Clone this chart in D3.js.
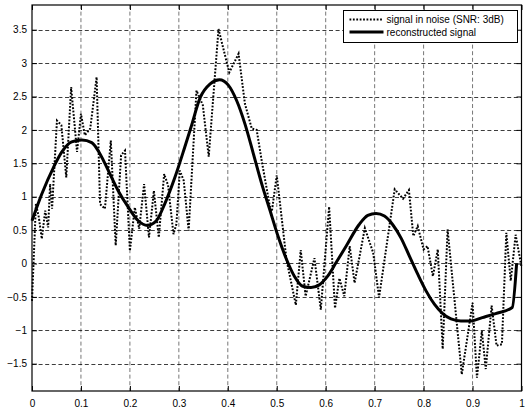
<!DOCTYPE html>
<html>
<head>
<meta charset="utf-8">
<script src="https://cdn.jsdelivr.net/npm/d3@7"></script>
<style>
  html, body { margin: 0; padding: 0; background: #fff; }
  svg { display: block; }
  text { font-family: "Liberation Sans", Arial, Helvetica, sans-serif; fill: #000; }
</style>
</head>
<body>
<svg id="chart" width="527" height="409"></svg>
<script>
// Noisy measurement (x, y)
const noiseX = [0.000, 0.008, 0.014, 0.020, 0.027, 0.033, 0.037, 0.041, 0.051, 0.060,
  0.070, 0.080, 0.092, 0.100, 0.108, 0.119, 0.132, 0.139, 0.149, 0.161,
  0.171, 0.182, 0.190, 0.200, 0.210, 0.219, 0.229, 0.239, 0.249, 0.259,
  0.270, 0.278, 0.289, 0.295, 0.302, 0.310, 0.320, 0.336, 0.349, 0.361,
  0.381, 0.403, 0.422, 0.435, 0.449, 0.459, 0.469, 0.486, 0.490, 0.500,
  0.520, 0.539, 0.549, 0.559, 0.577, 0.590, 0.607, 0.619, 0.628, 0.638,
  0.649, 0.659, 0.680, 0.697, 0.709, 0.741, 0.758, 0.770, 0.779, 0.788,
  0.800, 0.808, 0.819, 0.829, 0.839, 0.849, 0.878, 0.900, 0.909, 0.919,
  0.927, 0.939, 0.949, 0.960, 0.969, 0.978, 0.988, 1.000];
const noiseY = [-0.56, 0.89, 0.69, 0.37, 0.79, 0.54, 1.19, 0.82, 2.14, 2.07,
  1.29, 2.64, 1.67, 2.24, 1.92, 2.02, 2.79, 0.89, 0.82, 1.84,
  0.27, 1.62, 1.69, 0.19, 0.84, 0.52, 1.19, 0.39, 1.09, 0.39,
  1.34, 1.17, 0.44, 0.59, 1.39, 1.24, 0.49, 2.59, 2.37, 1.60,
  3.51, 2.86, 3.14, 2.39, 2.02, 2.00, 1.55, 0.85, 0.78, 1.32,
  0.05, -0.62, 0.20, -0.49, 0.08, -0.69, 0.85, -0.67, -0.22, -0.49,
  0.26, -0.29, 0.53, 0.16, -0.51, 1.11, 0.97, 1.10, 0.41, 0.56,
  0.21, 0.26, -0.19, 0.21, -1.28, 0.51, -1.66, -0.59, -1.71, -1.01,
  -1.58, -0.63, -1.23, -1.21, 0.46, -0.26, 0.43, -0.05];

// Reconstructed signal (x, y)
const reconX = [0.000, 0.020, 0.044, 0.061, 0.081, 0.102, 0.122, 0.139, 0.156, 0.176,
  0.197, 0.217, 0.236, 0.254, 0.271, 0.292, 0.312, 0.324, 0.344, 0.364,
  0.383, 0.401, 0.418, 0.435, 0.452, 0.469, 0.486, 0.503, 0.520, 0.536,
  0.553, 0.570, 0.587, 0.604, 0.621, 0.641, 0.668, 0.686, 0.703, 0.720,
  0.737, 0.754, 0.771, 0.788, 0.805, 0.822, 0.839, 0.856, 0.876, 0.897,
  0.920, 0.947, 0.981, 0.990];
const reconY = [0.64, 1.04, 1.44, 1.67, 1.82, 1.85, 1.81, 1.64, 1.39, 1.09,
  0.84, 0.64, 0.57, 0.64, 0.89, 1.29, 1.74, 2.02, 2.49, 2.69,
  2.75, 2.67, 2.44, 2.09, 1.65, 1.20, 0.80, 0.40, 0.06, -0.19,
  -0.34, -0.36, -0.32, -0.19, 0.01, 0.25, 0.58, 0.72, 0.75, 0.71,
  0.58, 0.38, 0.11, -0.16, -0.41, -0.61, -0.75, -0.83, -0.86, -0.86,
  -0.81, -0.75, -0.66, 0.00];

const xTicks = [0, 0.1, 0.2, 0.3, 0.4, 0.5, 0.6, 0.7, 0.8, 0.9, 1];
const yTicks = [-1.5, -1, -0.5, 0, 0.5, 1, 1.5, 2, 2.5, 3, 3.5];
const legendLabels = ["signal in noise (SNR: 3dB)", "reconstructed signal"];

const svg = d3.select("#chart");
const plot = { left: 32, right: 521.5, top: 5, bottom: 391 };

const x = d3.scaleLinear().domain([0, 1]).range([plot.left, plot.right]);
const y = d3.scaleLinear().domain([-1.909, 3.87]).range([plot.bottom, plot.top]);

// white plot background
svg.append("rect")
  .attr("x", plot.left).attr("y", plot.top)
  .attr("width", plot.right - plot.left).attr("height", plot.bottom - plot.top)
  .attr("fill", "#fff");

// dashed grid
const grid = svg.append("g").attr("stroke", "#000").attr("stroke-width", 0.9)
  .attr("stroke-dasharray", "4,2.6").attr("fill", "none");
grid.selectAll("line.v").data(xTicks.filter(d => d > 0 && d < 1)).join("line")
  .attr("class", "v")
  .attr("x1", d => x(d)).attr("x2", d => x(d))
  .attr("y1", plot.top).attr("y2", plot.bottom)
  .attr("stroke-opacity", 0.6);
grid.selectAll("line.h").data(yTicks).join("line")
  .attr("class", "h")
  .attr("x1", plot.left).attr("x2", plot.right)
  .attr("y1", d => Math.round(y(d)) + 0.5).attr("y2", d => Math.round(y(d)) + 0.5)
  .attr("stroke-opacity", 0.85);

// signal in noise: dotted line
const noiseData = noiseX.map((d, i) => [d, noiseY[i]]);
const reconData = reconX.map((d, i) => [d, reconY[i]]);

svg.append("path")
  .datum(noiseData)
  .attr("fill", "none")
  .attr("stroke", "#000")
  .attr("stroke-width", 2)
  .attr("stroke-dasharray", "1.8,1.6")
  .attr("d", d3.line().x(d => x(d[0])).y(d => y(d[1])));

// reconstructed signal: thick solid line
svg.append("path")
  .datum(reconData)
  .attr("fill", "none")
  .attr("stroke", "#000")
  .attr("stroke-width", 3)
  .attr("stroke-linejoin", "round")
  .attr("d", d3.line().curve(d3.curveMonotoneX).x(d => x(d[0])).y(d => y(d[1])));

// axes: bottom and left with labels, top and right mirror ticks
const tickLen = 5;
const xAxis = d3.axisBottom(x).tickValues(xTicks).tickSize(-tickLen).tickPadding(9)
  .tickFormat(d3.format("~g"));
const yAxis = d3.axisLeft(y).tickValues(yTicks).tickSize(-tickLen).tickPadding(5)
  .tickFormat(d3.format("~g"));

const gx = svg.append("g").attr("transform", `translate(0,${plot.bottom})`).call(xAxis);
const gy = svg.append("g").attr("transform", `translate(${plot.left},0)`).call(yAxis);
const gxt = svg.append("g").attr("transform", `translate(0,${plot.top})`)
  .call(d3.axisTop(x).tickValues(xTicks).tickSize(-tickLen).tickFormat(""));
const gyr = svg.append("g").attr("transform", `translate(${plot.right},0)`)
  .call(d3.axisRight(y).tickValues(yTicks).tickSize(-tickLen).tickFormat(""));

[gx, gy, gxt, gyr].forEach(g => {
  g.select(".domain").remove();
  g.selectAll(".tick line").attr("stroke", "#000");
  g.selectAll("text").attr("font-size", 10).attr("fill", "#000")
    .attr("font-family", "'Liberation Sans', Arial, Helvetica, sans-serif");
});

// axes box
svg.append("rect")
  .attr("x", plot.left).attr("y", plot.top)
  .attr("width", plot.right - plot.left).attr("height", plot.bottom - plot.top)
  .attr("fill", "none").attr("stroke", "#000").attr("stroke-width", 1.2);

// legend
const lg = svg.append("g").attr("transform", "translate(343.5,10.5)");
lg.append("rect").attr("width", 174).attr("height", 32)
  .attr("fill", "#fff").attr("stroke", "#000").attr("stroke-width", 1);
lg.append("line").attr("x1", 6).attr("x2", 40).attr("y1", 9).attr("y2", 9)
  .attr("stroke", "#000").attr("stroke-width", 2).attr("stroke-dasharray", "1.8,1.6");
lg.append("line").attr("x1", 6).attr("x2", 40).attr("y1", 21.5).attr("y2", 21.5)
  .attr("stroke", "#000").attr("stroke-width", 3);
lg.selectAll("text").data(legendLabels).join("text")
  .attr("x", 43).attr("y", (d, i) => 12.5 + i * 12.5)
  .attr("font-size", 10)
  .text(d => d);
</script>
</body>
</html>
